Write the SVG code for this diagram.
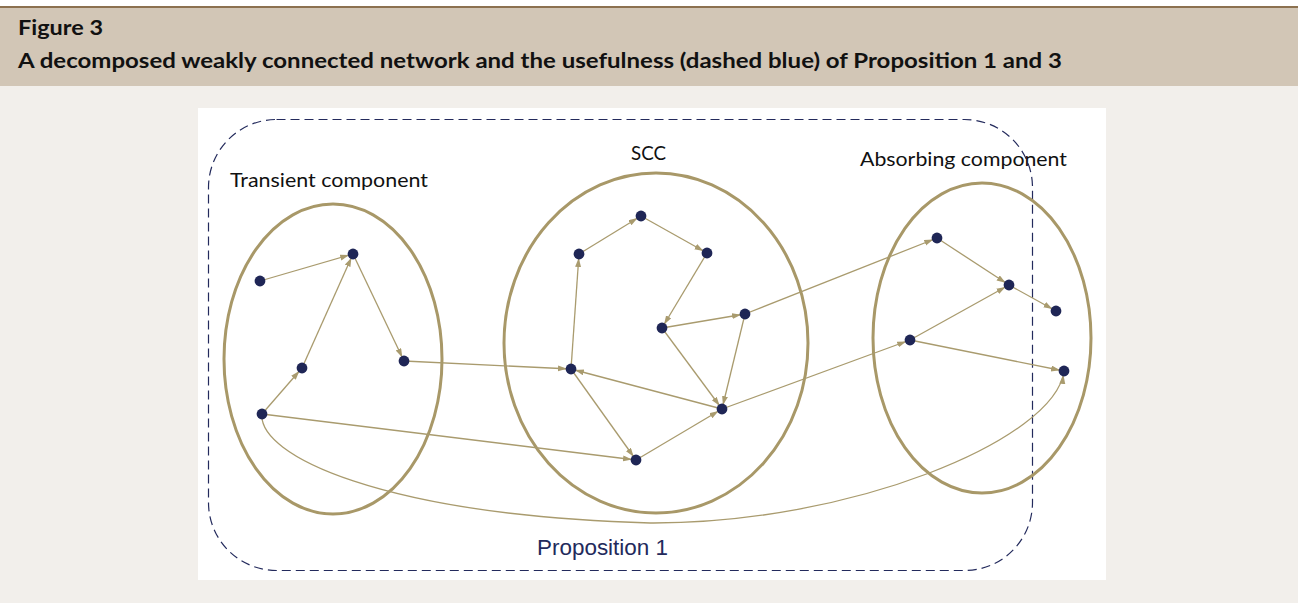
<svg xmlns="http://www.w3.org/2000/svg" width="1298" height="603" viewBox="0 0 1298 603">
  <style>
    .hdr { font-family: Lato, "Liberation Sans", sans-serif; font-weight: bold; font-size: 21px; fill: #111111; }
    .lbl { font-family: Lato, "Liberation Sans", sans-serif; font-size: 19px; fill: #111111; }
    .prop { font-family: "Liberation Sans", Arial, sans-serif; font-size: 22px; fill: #232a5c; }
    .comp { fill: none; stroke: #a89868; stroke-width: 3; }
    .edge { fill: none; stroke: #a99b6e; stroke-width: 1.3; marker-end: url(#arrow); }
    .node { fill: #1f2656; }
  </style>
  <defs>
    <marker id="arrow" markerUnits="userSpaceOnUse" markerWidth="10" markerHeight="8" refX="13" refY="3" orient="auto">
      <path d="M0,0 L9,3 L0,6 z" fill="#a99b6e"/>
    </marker>
  </defs>

  <!-- page background and header band -->
  <rect x="0" y="0" width="1298" height="603" fill="#f2efeb"/>
  <rect x="0" y="0" width="1298" height="7" fill="#ffffff"/>
  <rect x="0" y="7" width="1298" height="79" fill="#d2c6b6"/>
  <line x1="0" y1="7" x2="1298" y2="7" stroke="#8c7150" stroke-width="2"/>
  <text class="hdr" x="18" y="35" textLength="85" lengthAdjust="spacingAndGlyphs">Figure 3</text>
  <text class="hdr" x="18" y="68" textLength="1044" lengthAdjust="spacingAndGlyphs">A decomposed weakly connected network and the usefulness (dashed blue) of Proposition 1 and 3</text>

  <!-- drawing panel -->
  <rect x="198" y="108" width="908" height="472" fill="#ffffff"/>

  <!-- Proposition 1 region -->
  <g id="proposition1">
    <rect x="208.5" y="119.5" width="824" height="451" rx="68" ry="68" fill="none" stroke="#232a5c" stroke-width="1.2" stroke-dasharray="9,5"/>
    <text class="prop" x="537" y="555" textLength="131" lengthAdjust="spacingAndGlyphs">Proposition 1</text>
  </g>

  <!-- components -->
  <g id="transient-component">
    <ellipse class="comp" cx="333" cy="359" rx="109" ry="155"/>
    <text class="lbl" x="230" y="187" textLength="198" lengthAdjust="spacingAndGlyphs">Transient component</text>
  </g>
  <g id="scc">
    <ellipse class="comp" cx="656" cy="343" rx="152" ry="170"/>
    <text class="lbl" x="631" y="160" textLength="35" lengthAdjust="spacingAndGlyphs">SCC</text>
  </g>
  <g id="absorbing-component">
    <ellipse class="comp" cx="982" cy="338" rx="109" ry="155"/>
    <text class="lbl" x="860" y="166" textLength="207" lengthAdjust="spacingAndGlyphs">Absorbing component</text>
  </g>

  <!-- directed links -->
  <g id="connectors">
    <!-- transient -->
    <line class="edge" x1="260" y1="281" x2="353" y2="254"/>
    <line class="edge" x1="302" y1="368" x2="353" y2="254"/>
    <line class="edge" x1="353" y1="254" x2="404" y2="361"/>
    <line class="edge" x1="262" y1="414" x2="302" y2="368"/>
    <!-- transient to SCC -->
    <line class="edge" x1="404" y1="361" x2="571" y2="369"/>
    <line class="edge" x1="262" y1="414" x2="636" y2="460"/>
    <!-- SCC -->
    <line class="edge" x1="579" y1="254" x2="641" y2="216"/>
    <line class="edge" x1="641" y1="216" x2="707" y2="253"/>
    <line class="edge" x1="707" y1="253" x2="662" y2="328"/>
    <line class="edge" x1="662" y1="328" x2="745" y2="314"/>
    <line class="edge" x1="571" y1="369" x2="579" y2="254"/>
    <line class="edge" x1="662" y1="328" x2="722" y2="409"/>
    <line class="edge" x1="745" y1="314" x2="722" y2="409"/>
    <line class="edge" x1="722" y1="409" x2="571" y2="369"/>
    <line class="edge" x1="571" y1="369" x2="636" y2="460"/>
    <line class="edge" x1="636" y1="460" x2="722" y2="409"/>
    <!-- SCC to absorbing -->
    <line class="edge" x1="745" y1="314" x2="937" y2="238"/>
    <line class="edge" x1="722" y1="409" x2="910" y2="340"/>
    <!-- absorbing -->
    <line class="edge" x1="937" y1="238" x2="1009" y2="285"/>
    <line class="edge" x1="910" y1="340" x2="1009" y2="285"/>
    <line class="edge" x1="1009" y1="285" x2="1056" y2="311"/>
    <line class="edge" x1="910" y1="340" x2="1064" y2="371"/>
    <!-- transient straight to absorbing -->
    <path class="edge" d="M262,414 C258,455 380,515 650,523 C850,524 1055,440 1064,371"/>
  </g>

  <!-- vertices -->
  <g id="nodes">
    <g id="t1"><circle class="node" cx="260" cy="281" r="5.4"/></g>
    <g id="t2"><circle class="node" cx="353" cy="254" r="5.4"/></g>
    <g id="t3"><circle class="node" cx="404" cy="361" r="5.4"/></g>
    <g id="t4"><circle class="node" cx="302" cy="368" r="5.4"/></g>
    <g id="t5"><circle class="node" cx="262" cy="414" r="5.4"/></g>
    <g id="s1"><circle class="node" cx="641" cy="216" r="5.4"/></g>
    <g id="s2"><circle class="node" cx="579" cy="254" r="5.4"/></g>
    <g id="s3"><circle class="node" cx="707" cy="253" r="5.4"/></g>
    <g id="s4"><circle class="node" cx="662" cy="328" r="5.4"/></g>
    <g id="s5"><circle class="node" cx="745" cy="314" r="5.4"/></g>
    <g id="s6"><circle class="node" cx="571" cy="369" r="5.4"/></g>
    <g id="s7"><circle class="node" cx="722" cy="409" r="5.4"/></g>
    <g id="s8"><circle class="node" cx="636" cy="460" r="5.4"/></g>
    <g id="a1"><circle class="node" cx="937" cy="238" r="5.4"/></g>
    <g id="a2"><circle class="node" cx="1009" cy="285" r="5.4"/></g>
    <g id="a3"><circle class="node" cx="1056" cy="311" r="5.4"/></g>
    <g id="a4"><circle class="node" cx="910" cy="340" r="5.4"/></g>
    <g id="a5"><circle class="node" cx="1064" cy="371" r="5.4"/></g>
  </g>
</svg>
